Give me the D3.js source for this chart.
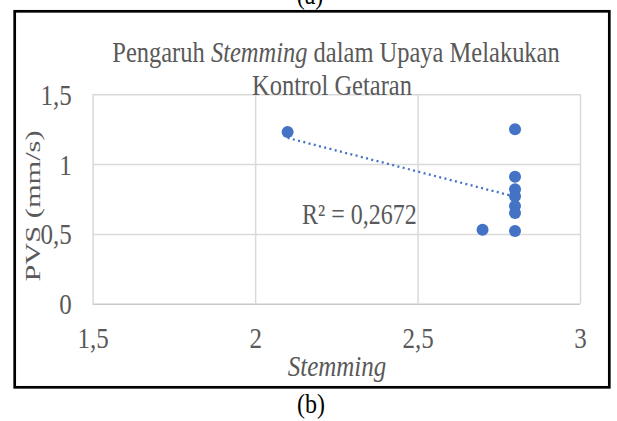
<!DOCTYPE html>
<html>
<head>
<meta charset="utf-8">
<script src="https://cdn.jsdelivr.net/npm/d3@7/dist/d3.min.js"></script>
<style>
  body { margin: 0; background: #fff; }
  svg { display: block; }
</style>
</head>
<body>
<svg id="chart" width="617" height="421"></svg>
<script>
// Blasting measurements: stemming length vs peak vector sum (PVS)
const stemming = [2.1, 2.7, 2.8, 2.8, 2.8, 2.8, 2.8, 2.8, 2.8];
const pvs      = [1.23, 0.53, 1.25, 0.91, 0.82, 0.77, 0.70, 0.65, 0.52];

const xTicks = [1.5, 2, 2.5, 3];
const xTickLabels = ["1,5", "2", "2,5", "3"];
const yTicks = [0, 0.5, 1, 1.5];
const yTickLabels = ["0", "0,5", "1", "1,5"];

const titleLine1 = ["Pengaruh ", "Stemming", " dalam Upaya Melakukan"];
const titleLine2 = "Kontrol Getaran";
const xTitle = "Stemming";
const yTitle = "PVS (mm/s)";
const r2Label = "R² = 0,2672";
const panelTop = "(a)";
const panelBottom = "(b)";

const serif = "'Liberation Serif', 'Times New Roman', serif";
const grey = "#595959";
const blue = "#4472C4";

const svg = d3.select("#chart");

const x = d3.scaleLinear().domain([1.5, 3]).range([92.7, 580]);
const y = d3.scaleLinear().domain([0, 1.5]).range([303.7, 94.3]);
const plotW = x.range()[1] - x.range()[0];
const plotH = y.range()[0] - y.range()[1];

// text that is drawn slightly taller than its natural width
function tallText(parent, str, tx, ty, size, k, anchor, fill) {
  return parent.append("text")
    .attr("transform", `translate(${tx},${ty}) scale(1,${k})`)
    .attr("font-family", serif)
    .attr("font-size", size)
    .attr("text-anchor", anchor)
    .attr("fill", fill)
    .text(str);
}

// outer frame
svg.append("rect")
  .attr("x", 14.7).attr("y", 11.3)
  .attr("width", 594.6).attr("height", 376)
  .attr("fill", "none").attr("stroke", "#000").attr("stroke-width", 2.7);

// horizontal gridlines + y tick labels
const gy = svg.append("g")
  .attr("transform", `translate(${x.range()[0]},0)`)
  .call(d3.axisLeft(y).tickValues(yTicks)
    .tickFormat((d, i) => yTickLabels[i])
    .tickSize(-plotW).tickSizeOuter(0));
gy.select(".domain").remove();
gy.selectAll(".tick line")
  .attr("stroke", d => d === 0 ? "#c8c8c8" : "#d9d9d9")
  .attr("stroke-width", 1.5);
gy.selectAll(".tick text")
  .attr("x", null).attr("dy", null)
  .attr("transform", "translate(-21,10) scale(1,1.2)")
  .attr("font-family", serif).attr("font-size", 25)
  .attr("text-anchor", "end").attr("fill", grey);

// vertical gridlines + x tick labels
const gx = svg.append("g")
  .attr("transform", `translate(0,${y.range()[0]})`)
  .call(d3.axisBottom(x).tickValues(xTicks)
    .tickFormat((d, i) => xTickLabels[i])
    .tickSize(-plotH).tickSizeOuter(0));
gx.select(".domain").remove();
gx.selectAll(".tick line")
  .attr("stroke", "#d9d9d9").attr("stroke-width", 1.5);
gx.selectAll(".tick text")
  .attr("y", null).attr("dy", null)
  .attr("transform", "translate(0,44) scale(1,1.2)")
  .attr("font-family", serif).attr("font-size", 25)
  .attr("text-anchor", "middle").attr("fill", grey);

// least-squares linear trendline over the data range
const mx = d3.mean(stemming), my = d3.mean(pvs);
const sxy = d3.sum(stemming, (s, i) => (s - mx) * (pvs[i] - my));
const sxx = d3.sum(stemming, s => (s - mx) * (s - mx));
const slope = sxy / sxx, intercept = my - slope * mx;
const [x0, x1] = d3.extent(stemming);

// data points
svg.append("g").selectAll("circle")
  .data(stemming.map((s, i) => ({ s, v: pvs[i] })))
  .join("circle")
  .attr("cx", d => x(d.s))
  .attr("cy", d => y(d.v))
  .attr("r", 6)
  .attr("fill", blue);

svg.append("path")
  .datum([x0, x1])
  .attr("d", d3.line().x(d => x(d)).y(d => y(intercept + slope * d)))
  .attr("fill", "none")
  .attr("stroke", blue)
  .attr("stroke-width", 2.3)
  .attr("stroke-dasharray", "2,3.4");

// R² annotation
tallText(svg, r2Label, 302, 224, 24, 1.22, "start", grey);

// chart title
const t1 = svg.append("text")
  .attr("transform", "translate(336,61.7) scale(1,1.18)")
  .attr("font-family", serif).attr("font-size", 24.5)
  .attr("text-anchor", "middle").attr("fill", grey);
t1.selectAll("tspan").data(titleLine1).join("tspan")
  .attr("font-style", (d, i) => i === 1 ? "italic" : "normal")
  .text(d => d);
tallText(svg, titleLine2, 332, 95, 24.5, 1.18, "middle", grey);

// axis titles
svg.append("text")
  .attr("transform", "translate(40,206) rotate(-90) scale(1.52,1)")
  .attr("font-family", serif).attr("font-size", 20)
  .attr("text-anchor", "middle").attr("fill", grey)
  .text(yTitle);
tallText(svg, xTitle, 337, 376, 25, 1.2, "middle", grey)
  .attr("font-style", "italic");

// panel captions
tallText(svg, panelTop, 310, 4, 24, 1.15, "middle", "#000");
tallText(svg, panelBottom, 311, 413, 24, 1.15, "middle", "#000");
</script>
</body>
</html>
